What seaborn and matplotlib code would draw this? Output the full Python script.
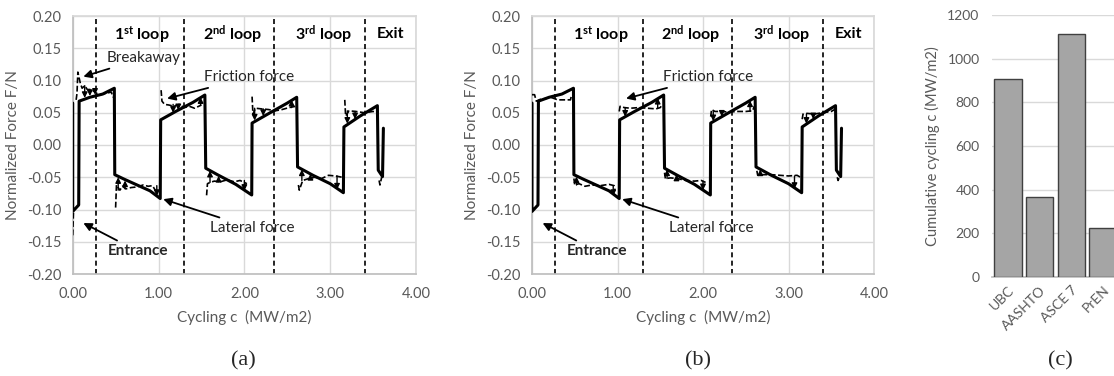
import numpy as np
import pandas as pd
import matplotlib
matplotlib.use("Agg")
import matplotlib.pyplot as plt
import seaborn as sns

sns.set_theme(style="white")
plt.rcParams['font.family'] = ['Lato', 'DejaVu Sans']
plt.rcParams['mathtext.fontset'] = 'custom'
plt.rcParams['mathtext.rm'] = 'Lato'
plt.rcParams['mathtext.bf'] = 'Lato:bold'

# ---------------- data ----------------
# lateral force (solid), same in (a) and (b)
lat_x = [0.00, 0.00, 0.07, 0.075, 0.20, 0.35, 0.485, 0.49, 0.60, 0.75, 0.90, 1.02,
         1.025, 1.20, 1.40, 1.54, 1.55, 1.70, 1.90, 2.086, 2.09, 2.30, 2.50, 2.61,
         2.62, 2.80, 3.00, 3.154, 3.16, 3.35, 3.55, 3.56, 3.61, 3.62]
lat_y = [0.065, -0.103, -0.093, 0.068, 0.074, 0.079, 0.088, -0.046, -0.053, -0.062, -0.071, -0.083,
         0.039, 0.052, 0.066, 0.0775, -0.036, -0.047, -0.061, -0.0775, 0.034, 0.050, 0.065, 0.074,
         -0.034, -0.047, -0.060, -0.074, 0.028, 0.045, 0.061, -0.039, -0.049, 0.026]

# friction force (dashed) panel (a): segments
fric_a_seg = [0, 0,
              1, 1, 1, 1, 1, 1, 1, 1, 1, 1, 1, 1, 1, 1,
              2, 2, 2, 2, 2, 2, 2, 2, 2, 2, 2,
              3, 3, 3, 3, 3, 3, 3, 3, 3, 3,
              4, 4, 4, 4, 4, 4, 4, 4, 4,
              5, 5, 5, 5, 5, 5, 5, 5, 5,
              6, 6, 6, 6, 6, 6, 6, 6, 6,
              7, 7, 7, 7, 7, 7, 7,
              8, 8, 8]
fric_a_x = [0.00, 0.01,
            0.04, 0.05, 0.06, 0.09, 0.11, 0.14, 0.17, 0.20, 0.24, 0.28, 0.32, 0.38, 0.45, 0.47,
            0.50, 0.51, 0.55, 0.58, 0.62, 0.68, 0.75, 0.82, 0.88, 0.93, 0.97,
            1.03, 1.04, 1.07, 1.12, 1.18, 1.24, 1.30, 1.36, 1.42, 1.50,
            1.56, 1.57, 1.60, 1.65, 1.72, 1.80, 1.88, 1.95, 2.03,
            2.09, 2.10, 2.13, 2.20, 2.28, 2.36, 2.44, 2.52, 2.60,
            2.63, 2.64, 2.68, 2.75, 2.82, 2.90, 2.98, 3.06, 3.14,
            3.17, 3.18, 3.22, 3.30, 3.40, 3.50, 3.55,
            3.57, 3.58, 3.60]
fric_a_y = [-0.140, -0.100,
            0.070, 0.080, 0.113, 0.095, 0.088, 0.092, 0.086, 0.086, 0.084, 0.080, 0.078, 0.080, 0.082, 0.074,
            -0.097, -0.062, -0.070, -0.064, -0.068, -0.066, -0.065, -0.062, -0.064, -0.063, -0.072,
            0.085, 0.068, 0.063, 0.062, 0.060, 0.063, 0.058, 0.060, 0.057, 0.062,
            -0.078, -0.060, -0.058, -0.056, -0.057, -0.054, -0.057, -0.055, -0.060,
            0.075, 0.048, 0.057, 0.056, 0.055, 0.053, 0.055, 0.058, 0.060,
            -0.062, -0.070, -0.055, -0.052, -0.050, -0.052, -0.047, -0.048, -0.050,
            0.070, 0.045, 0.053, 0.052, 0.050, 0.052, 0.050,
            -0.055, -0.062, -0.050]

# friction force (dashed) panel (b)
fric_b_seg = [1] * 10 + [2] * 9 + [3] * 9 + [4] * 8 + [5] * 9 + [6] * 8 + [7] * 7 + [8] * 3
fric_b_x = [0.00, 0.03, 0.05, 0.10, 0.16, 0.22, 0.30, 0.38, 0.45, 0.46,
            0.49, 0.50, 0.55, 0.62, 0.70, 0.80, 0.90, 0.96, 0.97,
            1.02, 1.03, 1.08, 1.15, 1.25, 1.35, 1.45, 1.50, 1.52,
            1.55, 1.56, 1.62, 1.70, 1.80, 1.90, 1.98, 2.03,
            2.09, 2.10, 2.14, 2.22, 2.30, 2.40, 2.50, 2.58, 2.60,
            2.63, 2.64, 2.70, 2.80, 2.90, 3.00, 3.10, 3.14,
            3.16, 3.17, 3.22, 3.30, 3.40, 3.50, 3.54,
            3.57, 3.58, 3.60]
fric_b_y = [0.078, 0.078, 0.068, 0.071, 0.072, 0.074, 0.070, 0.070, 0.070, 0.076,
            -0.052, -0.062, -0.060, -0.064, -0.062, -0.063, -0.061, -0.063, -0.070,
            0.052, 0.060, 0.058, 0.057, 0.058, 0.057, 0.056, 0.058, 0.062,
            -0.043, -0.052, -0.051, -0.052, -0.055, -0.056, -0.055, -0.058,
            0.044, 0.055, 0.052, 0.052, 0.051, 0.052, 0.052, 0.053, 0.060,
            -0.040, -0.047, -0.046, -0.046, -0.047, -0.048, -0.047, -0.050,
            0.040, 0.048, 0.049, 0.048, 0.050, 0.052, 0.055,
            -0.050, -0.055, -0.048]

# small arrows between friction and lateral force
arr_a_x = [0.14, 0.20, 0.26, 0.53, 0.61, 0.98, 1.17, 1.23, 1.49, 1.60, 1.70, 2.00,
           2.12, 2.22, 2.55, 2.67, 2.77, 3.08, 3.20, 3.29]
arr_a_from = [0.092, 0.086, 0.084, -0.070, -0.068, -0.063, 0.063, 0.062, 0.062, -0.058, -0.057, -0.055,
              0.057, 0.056, 0.058, -0.055, -0.052, -0.048, 0.053, 0.052]
arr_a_to = [0.073, 0.076, 0.078, -0.050, -0.055, -0.079, 0.050, 0.054, 0.074, -0.040, -0.048, -0.071,
            0.038, 0.045, 0.070, -0.038, -0.045, -0.069, 0.033, 0.040]

arr_b_x = [0.52, 0.95, 1.09, 1.47, 1.58, 1.69, 2.00, 2.12, 2.22, 2.55, 2.67, 3.07, 3.21, 3.29]
arr_b_from = [-0.062, -0.063, 0.058, 0.057, -0.052, -0.052, -0.056, 0.052, 0.052, 0.052,
              -0.047, -0.048, 0.048, 0.048]
arr_b_to = [-0.049, -0.079, 0.044, 0.073, -0.038, -0.046, -0.070, 0.037, 0.044, 0.069,
            -0.038, -0.068, 0.033, 0.040]

loop_bounds = [0.27, 1.30, 2.34, 3.40]
loop_labels = [r"$\mathbf{1^{st}}$ loop", r"$\mathbf{2^{nd}}$ loop", r"$\mathbf{3^{rd}}$ loop", "Exit"]
loop_label_x = [0.81, 1.86, 2.92, 3.70]

bar_cats = ["UBC", "AASHTO", "ASCE 7", "PrEN"]
bar_vals = [905, 365, 1115, 225]

# ---------------- figure ----------------
W, H = 1114, 376
fig = plt.figure(figsize=(W / 100, H / 100), dpi=100)

def px_axes(left, top, right, bottom):
    return fig.add_axes([left / W, 1 - bottom / H, (right - left) / W, (bottom - top) / H])

GRID = "#d9d9d9"
TXT = "#595959"
TICK_FS = 10.5
LAB_FS = 11

def style_force_axes(ax):
    ax.set_xlim(0, 4)
    ax.set_ylim(-0.2, 0.2)
    ax.set_xticks([0, 1, 2, 3, 4])
    ax.set_xticklabels(["0.00", "1.00", "2.00", "3.00", "4.00"])
    yt = np.round(np.arange(-0.2, 0.2001, 0.05), 2)
    ax.set_yticks(yt)
    ax.set_yticklabels([f"{v:.2f}".replace("-0.00", "0.00") for v in yt])
    ax.grid(True, color=GRID, lw=1.0)
    ax.set_axisbelow(True)
    for s in ax.spines.values():
        s.set_color(GRID)
    ax.spines['left'].set_color("#bfbfbf")
    ax.spines['bottom'].set_color("#bfbfbf")
    ax.tick_params(axis='both', length=0, labelsize=TICK_FS, labelcolor=TXT)
    ax.tick_params(axis='y', pad=8)
    ax.tick_params(axis='x', pad=9)
    ax.set_xlabel("Cycling c  (MW/m2)", fontsize=LAB_FS, color=TXT, labelpad=7)
    ax.set_ylabel("Normalized Force F/N", fontsize=LAB_FS, color=TXT, labelpad=5)

def draw_force(ax, fx, fy, fseg, ax_x, a_from, a_to, breakaway):
    for xb in loop_bounds:
        ax.axvline(xb, color="black", lw=1.2, ls=(0, (3, 2)), zorder=2)
    for t, xl in zip(loop_labels, loop_label_x):
        ax.text(xl, 0.172, t, ha="center", va="center", fontsize=11.5, fontweight="bold", color="black")
    dfF = pd.DataFrame({"x": fx, "y": fy, "seg": fseg})
    sns.lineplot(data=dfF, x="x", y="y", units="seg", estimator=None, sort=False,
                 color="black", lw=1.2, ax=ax, zorder=3, linestyle=(0, (3.5, 1.5)))
    dfL = pd.DataFrame({"x": lat_x, "y": lat_y})
    sns.lineplot(data=dfL, x="x", y="y", estimator=None, sort=False,
                 color="black", lw=2.2, ax=ax, zorder=4)
    for xa, y0, y1 in zip(ax_x, a_from, a_to):
        ax.annotate("", xy=(xa, y1), xytext=(xa, y0), annotation_clip=False,
                    arrowprops=dict(arrowstyle="-|>", color="black", lw=1.0,
                                    mutation_scale=8, shrinkA=0, shrinkB=0), zorder=6)
    ap = dict(arrowstyle="-|>", color="black", lw=1.3, mutation_scale=12, shrinkA=1, shrinkB=0)
    if breakaway:
        ax.annotate("Breakaway", xy=(0.124, 0.106), xytext=(0.40, 0.135),
                    fontsize=11, va="center", ha="left", arrowprops=ap)
    ax.annotate("Friction force", xy=(1.10, 0.072), xytext=(1.53, 0.105),
                fontsize=11, va="center", ha="left", arrowprops=ap)
    ax.annotate("Lateral force", xy=(1.055, -0.084), xytext=(1.60, -0.129),
                fontsize=11, va="center", ha="left", arrowprops=ap)
    ax.annotate("Entrance", xy=(0.124, -0.121), xytext=(0.41, -0.165),
                fontsize=11, va="center", ha="left", fontweight="bold", arrowprops=ap)
    ax.set_xlabel("")
    ax.set_ylabel("")

axA = px_axes(72.7, 16, 416, 274)
draw_force(axA, fric_a_x, fric_a_y, fric_a_seg, arr_a_x, arr_a_from, arr_a_to, True)
style_force_axes(axA)

axB = px_axes(532, 16, 874, 274)
draw_force(axB, fric_b_x, fric_b_y, fric_b_seg, arr_b_x, arr_b_from, arr_b_to, False)
style_force_axes(axB)

# ---------------- bar panel ----------------
axC = px_axes(992, 15, 1119, 277)
dfB = pd.DataFrame({"cat": bar_cats, "val": bar_vals})
sns.barplot(data=dfB, x="cat", y="val", color="#a5a5a5", edgecolor="#404040",
            linewidth=1.0, width=0.86, saturation=1, ax=axC, zorder=3)
axC.set_xlim(-0.5, 3.5)
axC.set_ylim(0, 1200)
axC.set_yticks(range(0, 1201, 200))
axC.grid(True, axis="y", color=GRID, lw=1.0)
axC.set_axisbelow(True)
for s in ["left", "right", "top"]:
    axC.spines[s].set_visible(False)
axC.spines["bottom"].set_color("#bfbfbf")
axC.tick_params(axis='both', length=0, labelsize=TICK_FS - 0.5, labelcolor=TXT)
axC.tick_params(axis='y', pad=9)
plt.setp(axC.get_xticklabels(), rotation=45, ha="right", rotation_mode="anchor")
axC.tick_params(axis='x', pad=5)
axC.set_xlabel("")
axC.set_ylabel("Cumulative cycling c (MW/m2)", fontsize=LAB_FS - 0.5, color=TXT, labelpad=5)

# panel labels
for xl, t in [(243, "(a)"), (698, "(b)"), (1060, "(c)")]:
    fig.text(xl / W, 1 - 361 / H, t, ha="center", va="center", fontsize=16,
             family=["Liberation Serif", "DejaVu Serif"])

fig.savefig("out.png", dpi=100)
